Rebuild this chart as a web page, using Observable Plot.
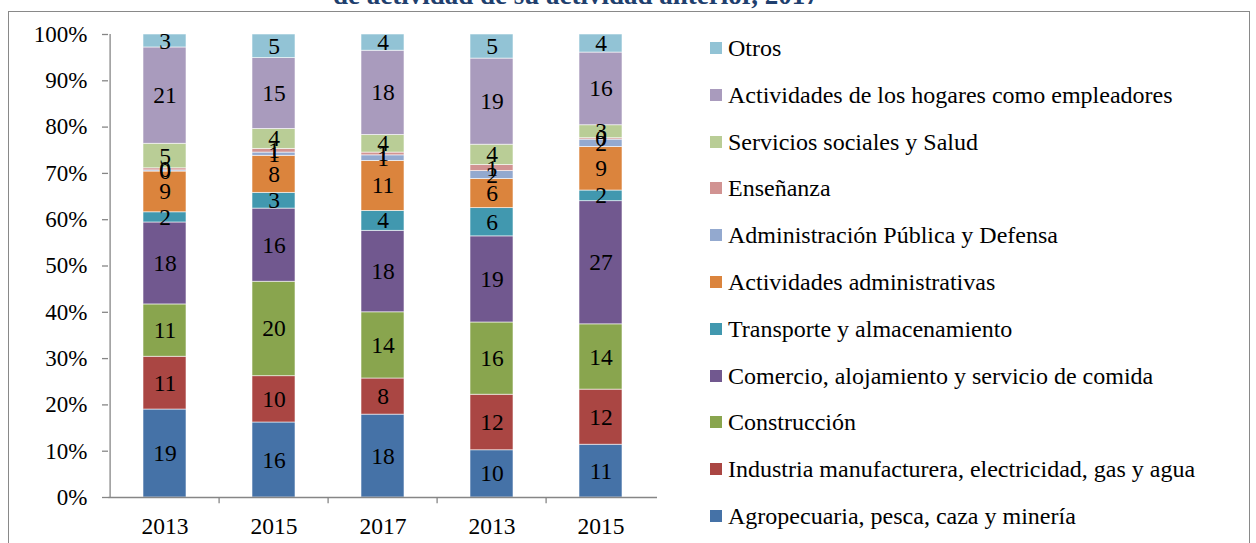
<!DOCTYPE html>
<html>
<head>
<meta charset="utf-8">
<script src="https://cdn.jsdelivr.net/npm/d3@7"></script>
<script src="https://cdn.jsdelivr.net/npm/@observablehq/plot@0.6"></script>
<style>
  html, body { margin: 0; padding: 0; background: #fff; }
  body { width: 1256px; height: 543px; overflow: hidden; position: relative; font-family: "Liberation Serif", serif; }
  #frame { position: absolute; left: 8px; top: 11px; width: 1242px; height: 600px; border: 1.5px solid #898989; box-sizing: border-box; }
  #title { position: absolute; left: 333px; top: -18px; font-size: 27px; line-height: 27px; font-weight: bold; color: #1f3f6e; white-space: nowrap; font-family: "Liberation Serif", serif; }
  #chart { position: absolute; left: 0; top: 0; }
  #legend { position: absolute; left: 0; top: 0; }
  .item { position: absolute; left: 710px; height: 26px; line-height: 26px; font-size: 24px; color: #000; white-space: nowrap; font-family: "Liberation Serif", serif; }
  .sw { position: absolute; left: 0; top: 7px; width: 12px; height: 12px; }
  .lab { position: absolute; left: 18px; top: 0; }
</style>
</head>
<body>
<div id="frame"></div>
<div id="chart"></div>
<div id="legend"></div>
<div id="title">de actividad de su actividad anterior, 2017</div>
<script>
// Category tick labels (five bars; years repeat)
const yearLabels = ["2013", "2015", "2017", "2013", "2015"];

// Series names, bottom to top of the stack
const seriesNames = [
  "Agropecuaria, pesca, caza y minería",
  "Industria manufacturera, electricidad, gas y agua",
  "Construcción",
  "Comercio, alojamiento y servicio de comida",
  "Transporte y almacenamiento",
  "Actividades administrativas",
  "Administración Pública y Defensa",
  "Enseñanza",
  "Servicios sociales y Salud",
  "Actividades de los hogares como empleadores",
  "Otros"
];
const seriesColors = [
  "#4572a7", "#aa4643", "#89a54e", "#71588f", "#4198af", "#db843d",
  "#93a9cf", "#d19392", "#b9cd96", "#a99bbd", "#92c3d5"
];

// Values (%) per series, one per bar
const agropecuaria   = [19.0, 16.2, 17.9, 10.2, 11.4];
const industria      = [11.4, 10.0,  7.8, 12.0, 11.9];
const construccion   = [11.3, 20.4, 14.3, 15.6, 14.1];
const comercio       = [17.7, 15.8, 17.6, 18.6, 26.6];
const transporte     = [ 2.2,  3.4,  4.3,  6.1,  2.3];
const administrativas= [ 8.8,  8.0, 10.8,  6.3,  9.4];
const adminPublica   = [ 0.25, 0.7,  1.2,  1.7,  1.6];
const ensenanza      = [ 0.45, 0.8,  0.6,  1.3,  0.3];
const servicios      = [ 5.3,  4.3,  3.8,  4.4,  2.8];
const hogares        = [20.8, 15.3, 18.2, 18.6, 15.7];
const otros          = [ 2.8,  5.1,  3.5,  5.2,  3.9];

const seriesValues = [agropecuaria, industria, construccion, comercio, transporte,
  administrativas, adminPublica, ensenanza, servicios, hogares, otros];

const table = [];
seriesNames.forEach((s, k) => {
  seriesValues[k].forEach((v, i) => table.push({i, s, v}));
});

const axisGray = "#868686";
const plot = Plot.plot({
  width: 1256,
  height: 543,
  marginLeft: 108,
  marginRight: 599,
  marginTop: 34,
  marginBottom: 46,
  style: {fontFamily: "Liberation Serif, serif", fontSize: "23px", color: "#000", background: "transparent"},
  x: {type: "band", domain: d3.range(5), paddingInner: 0.61, paddingOuter: 0.305, axis: null},
  y: {domain: [0, 100], axis: null},
  color: {domain: seriesNames, range: seriesColors},
  marks: [
    Plot.barY(table, {x: "i", y: "v", fill: "s", order: seriesNames, stroke: "#fff", strokeWidth: 0.8, strokeOpacity: 0.7}),
    Plot.text(table, Plot.stackY({x: "i", y: "v", z: "s", order: seriesNames, text: d => String(Math.round(d.v)), fill: "#000", fontSize: 23.5})),
    // y axis line and ticks
    Plot.ruleX([0], {x: d => d, dx: -54.9, y1: 0, y2: 100, stroke: axisGray, strokeWidth: 1.3}),
    Plot.axisY({ticks: d3.range(0, 101, 10), tickFormat: d => d + "%", tickSize: 6, tickPadding: 15, stroke: axisGray, fill: "#000", strokeWidth: 1.3, label: null, fontSize: 23}),
    // x axis line and boundary ticks
    Plot.ruleY([0], {stroke: axisGray, strokeWidth: 1.3}),
    Plot.ruleX([1, 2, 3, 4], {x: d => d, dx: -54.9, y1: 0, y2: -1.35, stroke: axisGray, strokeWidth: 1.3}),
    Plot.axisX({tickSize: 0, tickPadding: 20, tickFormat: i => yearLabels[i], fill: "#000", label: null, fontSize: 23.5})
  ]
});
document.getElementById("chart").appendChild(plot);

// Legend (top to bottom: reverse of stack order)
const legend = document.getElementById("legend");
seriesNames.slice().reverse().forEach((name, r) => {
  const color = seriesColors[seriesNames.length - 1 - r];
  const item = document.createElement("div");
  item.className = "item";
  item.style.top = (48 + r * 46.8 - 13) + "px";
  item.innerHTML = `<span class="sw" style="background:${color}"></span><span class="lab"></span>`;
  item.querySelector(".lab").textContent = name;
  legend.appendChild(item);
});
</script>
</body>
</html>
